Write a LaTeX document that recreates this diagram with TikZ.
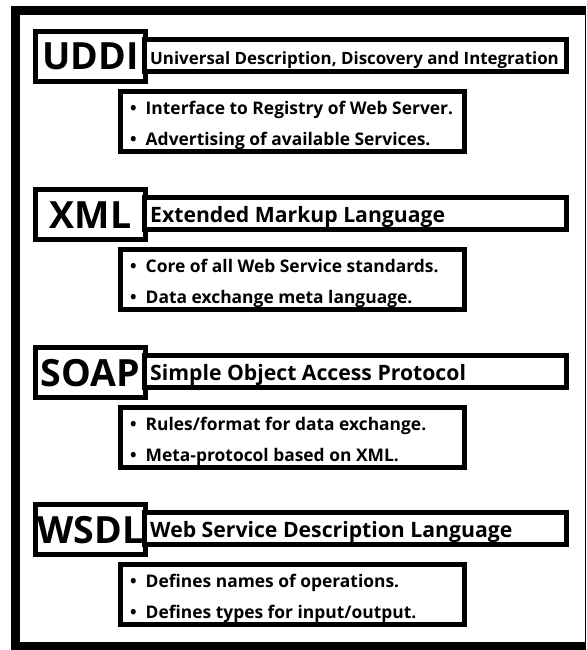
\documentclass[tikz,border=0pt]{standalone}
\usepackage{fontspec}
\setmainfont{Open Sans}
\newcommand\wsblock[7]{%
  % #1 name, #2 top edge, #3 acronym, #4 title size, #5 title, #6 first item, #7 second item
  \node[box, minimum width=110, minimum height=50] (#1-tag) at (90.5,#2+27.5) {};
  \node[box, minimum width=422, minimum height=32] (#1-title) at (355.5,#2+26.5) {};
  \node[box, minimum width=344, minimum height=60] (#1-list) at (292.5,#2+92.5) {};
  \node[acro] (#1-acro) at (90.5,#2+41) {#3};
  \node[titletext, font=\bfseries\fontsize{#4}{#4}\selectfont] (#1-name) at (150,#2+35.5) {#5};
  \node[itemtext] (#1-a) at (130,#2+85) {•\hspace{9pt}#6};
  \node[itemtext] (#1-b) at (130,#2+116) {•\hspace{9pt}#7};
}
\begin{document}
\begin{tikzpicture}[x=1pt,y=-1pt,
  box/.style={draw=black, fill=white, line width=5pt, inner sep=0pt},
  acro/.style={font=\bfseries\fontsize{37.5}{37.5}\selectfont, anchor=base, inner sep=0pt},
  titletext/.style={anchor=base west, inner sep=0pt},
  itemtext/.style={font=\bfseries\fontsize{17.4}{17.4}\selectfont, anchor=base west, inner sep=0pt}]
\useasboundingbox (0,0) rectangle (586,650);
% page frame
\fill[black] (11,6) rectangle (586,650);
\fill[white] (20,15) rectangle (585,642);
\wsblock{uddi}{29}{UDDI}{16.9}{Universal Description, Discovery and Integration}{Interface to Registry of Web Server.}{Advertising of available Services.}
\wsblock{xml}{187}{XML}{21.2}{Extended Markup Language}{Core of all Web Service standards.}{Data exchange meta language.}
\wsblock{soap}{345}{SOAP}{21.2}{Simple Object Access Protocol}{Rules/format for data exchange.}{Meta-protocol based on XML.}
\wsblock{wsdl}{502}{WSDL}{21.2}{Web Service Description Language}{Defines names of operations.}{Defines types for input/output.}
\end{tikzpicture}
\end{document}
